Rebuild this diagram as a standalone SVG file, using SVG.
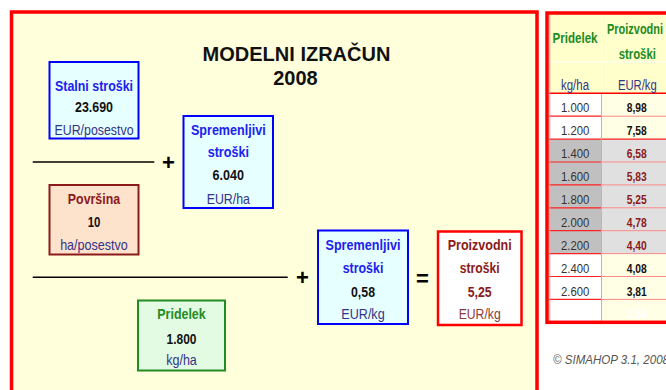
<svg xmlns="http://www.w3.org/2000/svg" width="666" height="390" viewBox="0 0 666 390">
<style>
text{font-family:"Liberation Sans",Arial,sans-serif;text-anchor:middle}
.b{font-weight:bold;font-size:15px}
.n{font-size:15px}
.h{font-weight:bold;font-size:14px}
.hn{font-size:14px}
.blue{fill:#2020F0}
.blk{fill:#111111}
.unit{fill:#333388}
.dred{fill:#8B1A1A}
.grn{fill:#228B22}
.op{font-weight:bold;font-size:22px;fill:#000}
.c1{font-size:13.5px;fill:#333333}
.c2{font-size:13.5px;font-weight:bold}
.rl1{stroke:#FF2020;stroke-width:1.2}
.rl2{stroke:#FF8888;stroke-width:1}
</style>
<rect x="0" y="0" width="666" height="390" fill="#FFFFFF"/>
<!-- main frame -->
<rect x="11.5" y="12" width="525.5" height="400" fill="#FFFFDC" stroke="#FF0000" stroke-width="3.5"/>
<g id="title">
<text x="296.5" y="61" style="font-size:20px;font-weight:bold" fill="#111">MODELNI IZRAČUN</text>
<text x="295.5" y="85" style="font-size:20px;font-weight:bold" fill="#111">2008</text>
</g>
<g id="connectors" stroke="#000" stroke-width="1.6">
<line x1="32.7" y1="162" x2="154.3" y2="162"/>
<line x1="32.7" y1="277.3" x2="287.7" y2="277.3"/>
<g stroke="none">
<text class="op" x="168.5" y="170">+</text>
<text class="op" x="302.5" y="285">+</text>
<text class="op" x="422.5" y="285.5">=</text>
</g>
</g>
<g id="stalni">
<rect x="49.5" y="62" width="89" height="76.5" fill="#E6FFFF" stroke="#0000FF" stroke-width="2"/>
<text class="b blue" x="94" y="90.7" textLength="78" lengthAdjust="spacingAndGlyphs">Stalni stroški</text>
<text class="b blk" x="94" y="111.7" textLength="38" lengthAdjust="spacingAndGlyphs">23.690</text>
<text class="n unit" x="94" y="134.7" textLength="79" lengthAdjust="spacingAndGlyphs">EUR/posestvo</text>
</g>
<g id="spremenljivi-ha">
<rect x="183.5" y="116" width="89.5" height="92" fill="#E6FFFF" stroke="#0000FF" stroke-width="2"/>
<text class="b blue" x="228.3" y="135" textLength="74.7" lengthAdjust="spacingAndGlyphs">Spremenljivi</text>
<text class="b blue" x="228.3" y="157.3" textLength="41.3" lengthAdjust="spacingAndGlyphs">stroški</text>
<text class="b blk" x="228.3" y="180" textLength="31.4" lengthAdjust="spacingAndGlyphs">6.040</text>
<text class="n unit" x="228.3" y="204" textLength="43.3" lengthAdjust="spacingAndGlyphs">EUR/ha</text>
</g>
<g id="povrsina">
<rect x="49.5" y="185" width="89" height="69.5" fill="#FDE2CC" stroke="#8B1A1A" stroke-width="2"/>
<text class="b dred" x="94" y="204" textLength="52.3" lengthAdjust="spacingAndGlyphs">Površina</text>
<text class="b blk" x="94" y="226.7" textLength="12.7" lengthAdjust="spacingAndGlyphs">10</text>
<text class="n unit" x="94" y="250" textLength="67.7" lengthAdjust="spacingAndGlyphs">ha/posestvo</text>
</g>
<g id="pridelek">
<rect x="138" y="300.5" width="87" height="70" fill="#E3FBE3" stroke="#228B22" stroke-width="2"/>
<text class="b grn" x="181.5" y="319.3" textLength="48.4" lengthAdjust="spacingAndGlyphs">Pridelek</text>
<text class="b blk" x="181.5" y="344.3" textLength="30" lengthAdjust="spacingAndGlyphs">1.800</text>
<text class="n unit" x="181.5" y="365" textLength="30.7" lengthAdjust="spacingAndGlyphs">kg/ha</text>
</g>
<g id="spremenljivi-kg">
<rect x="318" y="230.5" width="90" height="93.5" fill="#E6FFFF" stroke="#0000FF" stroke-width="2"/>
<text class="b blue" x="363" y="250" textLength="75" lengthAdjust="spacingAndGlyphs">Spremenljivi</text>
<text class="b blue" x="363" y="273.3" textLength="40.7" lengthAdjust="spacingAndGlyphs">stroški</text>
<text class="b blk" x="363" y="296.7" textLength="24" lengthAdjust="spacingAndGlyphs">0,58</text>
<text class="n unit" x="363" y="319.3" textLength="43.3" lengthAdjust="spacingAndGlyphs">EUR/kg</text>
</g>
<g id="proizvodni">
<rect x="438" y="231.5" width="83.5" height="93.5" fill="#FFFFFF" stroke="#FF0000" stroke-width="2.5"/>
<text class="b dred" x="479.7" y="250" textLength="64" lengthAdjust="spacingAndGlyphs">Proizvodni</text>
<text class="b dred" x="479.7" y="273.3" textLength="40" lengthAdjust="spacingAndGlyphs">stroški</text>
<text class="b dred" x="479.7" y="296.7" textLength="24" lengthAdjust="spacingAndGlyphs">5,25</text>
<text class="n" x="479.7" y="319.3" fill="#8B3A3A" textLength="42" lengthAdjust="spacingAndGlyphs">EUR/kg</text>
</g>
<!-- table -->
<g id="table">
<rect x="547" y="13" width="130" height="309.3" fill="#FFFFCC"/>
<rect x="549" y="93.3" width="52.5" height="45.8" fill="#FFFFFF"/>
<rect x="601.5" y="93.3" width="70" height="45.8" fill="#FFFFE6"/>
<rect x="549" y="139.1" width="52.5" height="114.5" fill="#C0C0C0"/>
<rect x="601.5" y="139.1" width="70" height="114.5" fill="#E0E0E0"/>
<rect x="549" y="253.6" width="52.5" height="68.7" fill="#FFFFFF"/>
<rect x="601.5" y="253.6" width="70" height="68.7" fill="#FFFFE6"/>
<line x1="601.5" y1="15" x2="601.5" y2="93.3" stroke="#FFFFFF" stroke-width="1"/>
<line x1="549" y1="62" x2="670" y2="62" stroke="#FFFFFF" stroke-width="1"/>
<g>
<line class="rl1" x1="549" y1="116.2" x2="601.5" y2="116.2"/><line class="rl2" x1="601.5" y1="116.2" x2="670" y2="116.2"/>
<line class="rl1" x1="549" y1="139.1" x2="601.5" y2="139.1"/><line class="rl1" x1="601.5" y1="139.1" x2="670" y2="139.1"/>
<line class="rl1" x1="549" y1="162" x2="601.5" y2="162"/><line class="rl2" x1="601.5" y1="162" x2="670" y2="162"/>
<line class="rl1" x1="549" y1="184.9" x2="601.5" y2="184.9"/><line class="rl2" x1="601.5" y1="184.9" x2="670" y2="184.9"/>
<line class="rl1" x1="549" y1="207.8" x2="601.5" y2="207.8"/><line class="rl2" x1="601.5" y1="207.8" x2="670" y2="207.8"/>
<line class="rl1" x1="549" y1="230.7" x2="601.5" y2="230.7"/><line class="rl2" x1="601.5" y1="230.7" x2="670" y2="230.7"/>
<line class="rl1" x1="549" y1="253.6" x2="601.5" y2="253.6"/><line class="rl2" x1="601.5" y1="253.6" x2="670" y2="253.6"/>
<line class="rl1" x1="549" y1="276.5" x2="601.5" y2="276.5"/><line class="rl2" x1="601.5" y1="276.5" x2="670" y2="276.5"/>
<line class="rl1" x1="549" y1="299.4" x2="601.5" y2="299.4"/><line class="rl2" x1="601.5" y1="299.4" x2="670" y2="299.4"/>
<line x1="601.5" y1="93.3" x2="601.5" y2="322" stroke="#FF9999" stroke-width="1"/>
<line x1="549" y1="93.3" x2="670" y2="93.3" stroke="#FF0000" stroke-width="1.5"/>
</g>
<line x1="549.8" y1="15" x2="549.8" y2="321" stroke="#FF9999" stroke-width="1"/>
<rect x="547" y="13" width="130" height="309.3" fill="none" stroke="#FF0000" stroke-width="3.5"/>
<text x="575" y="42.7" class="h grn" textLength="45" lengthAdjust="spacingAndGlyphs">Pridelek</text>
<text x="635" y="34.3" class="h grn" textLength="56" lengthAdjust="spacingAndGlyphs">Proizvodni</text>
<text x="637.3" y="59.3" class="h grn" textLength="37.3" lengthAdjust="spacingAndGlyphs">stroški</text>
<text x="575" y="90" class="hn unit" textLength="28" lengthAdjust="spacingAndGlyphs">kg/ha</text>
<text x="637.3" y="90" class="hn unit" textLength="38.7" lengthAdjust="spacingAndGlyphs">EUR/kg</text>
<g class="col1">
<text class="c1" x="575.2" y="112.3" textLength="28.3" lengthAdjust="spacingAndGlyphs">1.000</text>
<text class="c1" x="575.2" y="135.2" textLength="28.3" lengthAdjust="spacingAndGlyphs">1.200</text>
<text class="c1" x="575.2" y="158.1" textLength="28.3" lengthAdjust="spacingAndGlyphs">1.400</text>
<text class="c1" x="575.2" y="181" textLength="28.3" lengthAdjust="spacingAndGlyphs">1.600</text>
<text class="c1" x="575.2" y="203.9" textLength="28.3" lengthAdjust="spacingAndGlyphs">1.800</text>
<text class="c1" x="575.2" y="226.8" textLength="28.3" lengthAdjust="spacingAndGlyphs">2.000</text>
<text class="c1" x="575.2" y="249.7" textLength="28.3" lengthAdjust="spacingAndGlyphs">2.200</text>
<text class="c1" x="575.2" y="272.6" textLength="28.3" lengthAdjust="spacingAndGlyphs">2.400</text>
<text class="c1" x="575.2" y="295.5" textLength="28.3" lengthAdjust="spacingAndGlyphs">2.600</text>
</g>
<g class="col2">
<text class="c2" fill="#111" x="636.7" y="112.3" textLength="20" lengthAdjust="spacingAndGlyphs">8,98</text>
<text class="c2" fill="#111" x="636.7" y="135.2" textLength="20" lengthAdjust="spacingAndGlyphs">7,58</text>
<text class="c2" fill="#8B1A1A" x="636.7" y="158.1" textLength="20" lengthAdjust="spacingAndGlyphs">6,58</text>
<text class="c2" fill="#8B1A1A" x="636.7" y="181" textLength="20" lengthAdjust="spacingAndGlyphs">5,83</text>
<text class="c2" fill="#8B1A1A" x="636.7" y="203.9" textLength="20" lengthAdjust="spacingAndGlyphs">5,25</text>
<text class="c2" fill="#8B1A1A" x="636.7" y="226.8" textLength="20" lengthAdjust="spacingAndGlyphs">4,78</text>
<text class="c2" fill="#8B1A1A" x="636.7" y="249.7" textLength="20" lengthAdjust="spacingAndGlyphs">4,40</text>
<text class="c2" fill="#111" x="636.7" y="272.6" textLength="20" lengthAdjust="spacingAndGlyphs">4,08</text>
<text class="c2" fill="#111" x="636.7" y="295.5" textLength="20" lengthAdjust="spacingAndGlyphs">3,81</text>
<text class="c2" fill="#FFFFFF" x="636.7" y="318.4" textLength="20" lengthAdjust="spacingAndGlyphs">3,58</text>
</g>
</g>
<text x="553" y="364" style="font-size:12.5px;font-style:italic;text-anchor:start" fill="#555555" textLength="116" lengthAdjust="spacingAndGlyphs">© SIMAHOP 3.1, 2008</text>
</svg>
